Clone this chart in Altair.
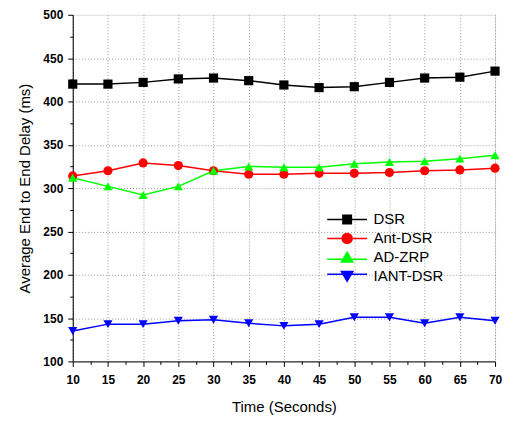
import altair as alt
import pandas as pd

time = [10, 15, 20, 25, 30, 35, 40, 45, 50, 55, 60, 65, 70]
dsr = [420, 420, 422, 426, 427, 424, 419, 416, 417, 422, 427, 428, 435]
ant_dsr = [314, 320, 329, 326, 320, 316, 316, 317, 317, 318, 320, 321, 323]
ad_zrp = [312, 302, 292, 302, 320, 325, 324, 324, 328, 330, 331, 334, 338]
iant_dsr = [135, 143, 143, 147, 148, 144, 141, 143, 151, 151, 144, 151, 147]

series = ["DSR", "Ant-DSR", "AD-ZRP", "IANT-DSR"]
colors = ["#000000", "#FF0000", "#00FF00", "#0000FF"]
shapes = ["square", "circle", "triangle-up", "triangle-down"]
legend_paths = [
    "M-4,0H4M-0.85,-0.85H0.85V0.85H-0.85Z",
    "M-4,0H4M1,0A1,1,0,1,1,-1,0A1,1,0,1,1,1,0Z",
    "M-4,0.4H4M0,-1L1.15,0.95H-1.15Z",
    "M-4,-0.4H4M0,1L1.15,-0.95H-1.15Z",
]

rows = []
for name, vals in zip(series, [dsr, ant_dsr, ad_zrp, iant_dsr]):
    for t, v in zip(time, vals):
        rows.append({"time": t, "value": v, "protocol": name})
df = pd.DataFrame(rows)

FONT = "Liberation Sans"
x_ticks = [10 + 2.5 * i for i in range(25)]
y_ticks = [100 + 25 * i for i in range(17)]

xenc = alt.X(
    "time:Q",
    scale=alt.Scale(domain=[10, 70], nice=False, zero=False),
    axis=alt.Axis(
        values=x_ticks,
        labelExpr="datum.value % 5 === 0 ? datum.label : ''",
        tickSize={"condition": {"test": "datum.value % 5 === 0", "value": 5}, "value": 3},
        gridOpacity={"condition": {"test": "datum.value % 5 === 0", "value": 1}, "value": 0},
        title="Time (Seconds)",
        titleFont=FONT, titleFontSize=15, titleFontWeight="normal", titlePadding=14,
        labelFont=FONT, labelFontSize=12, labelFontWeight="bold", labelPadding=8,
        labelColor="black", titleColor="black",
        domainColor="black", tickColor="black", labelFlush=False,
        gridColor="#999999", gridDash=[1, 2],
    ),
)
yenc = alt.Y(
    "value:Q",
    scale=alt.Scale(domain=[100, 500], nice=False, zero=False),
    axis=alt.Axis(
        values=y_ticks,
        labelExpr="datum.value % 50 === 0 ? datum.label : ''",
        tickSize={"condition": {"test": "datum.value % 50 === 0", "value": 5}, "value": 3},
        gridOpacity={"condition": {"test": "datum.value % 50 === 0 && datum.value > 100 && datum.value < 500", "value": 1}, "value": 0},
        title="Average End to End Delay (ms)",
        titleFont=FONT, titleFontSize=15, titleFontWeight="normal", titlePadding=10,
        labelFont=FONT, labelFontSize=12, labelFontWeight="bold", labelPadding=5,
        labelColor="black", titleColor="black",
        domainColor="black", tickColor="black",
        gridColor="#999999", gridDash=[1, 2],
    ),
)


def make_legend():
    return alt.Legend(
        title=None,
        orient="none",
        legendX=268,
        legendY=198,
        symbolSize=100,
        symbolStrokeWidth=1.5,
        symbolFillColor={"expr": "scale('color', datum.value)"},
        symbolStrokeColor={"expr": "scale('color', datum.value)"},
        labelFont=FONT,
        labelFontSize=15,
        labelColor="black",
        labelOffset=19,
        rowPadding=2,
    )


color_nolegend = alt.Color("protocol:N", scale=alt.Scale(domain=series, range=colors), legend=None)
color_legend = alt.Color("protocol:N", scale=alt.Scale(domain=series, range=colors), legend=make_legend())

base = alt.Chart(df).encode(x=xenc, y=yenc)
lines = base.mark_line(strokeWidth=1.5).encode(color=color_legend)

point_layers = []
for name, shp in zip(series, shapes):
    point_layers.append(
        base.transform_filter(alt.datum.protocol == name)
        .mark_point(filled=True, size=85, opacity=1, shape=shp)
        .encode(color=color_nolegend)
    )

legend_layer = (
    alt.Chart(df)
    .mark_point(filled=True, opacity=0)
    .encode(
        x=xenc,
        y=yenc,
        shape=alt.Shape("protocol:N", scale=alt.Scale(domain=series, range=legend_paths), legend=make_legend()),
    )
)

chart = (
    alt.layer(lines, *point_layers, legend_layer)
    .properties(width=424, height=348, padding={"left": 9, "top": 0, "right": 0, "bottom": 0})
    .configure_view(stroke="black", strokeWidth=1)
    .configure(background="white")
)

chart.save("out.html", embed_options={"renderer": "svg", "actions": False})
